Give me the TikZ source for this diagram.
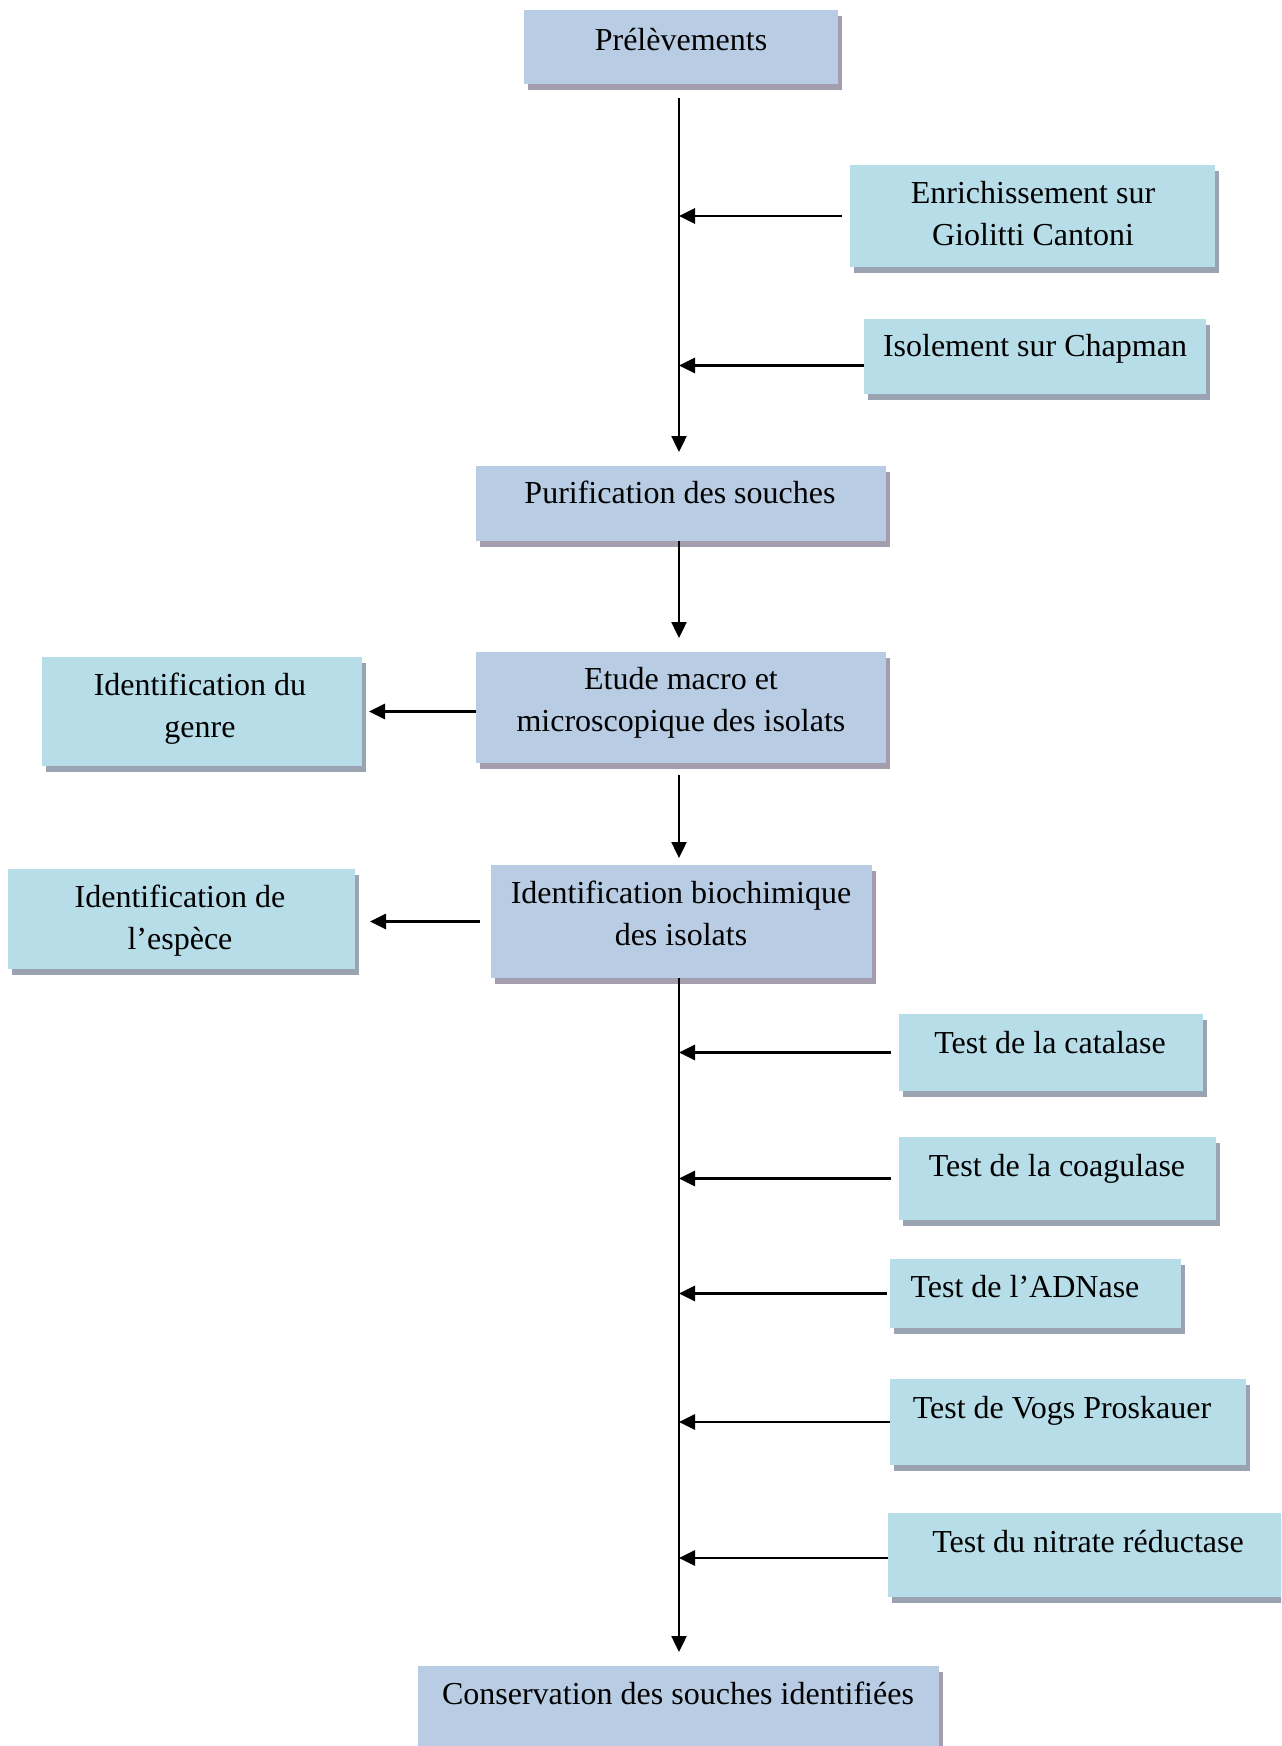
\documentclass[tikz,border=0pt]{standalone}
\usepackage{fontspec}
\setmainfont{Liberation Serif}
\usetikzlibrary{arrows.meta,shadows,fit}
\definecolor{stepfill}{HTML}{B8CCE4}
\definecolor{sidefill}{HTML}{B7DDE8}
\definecolor{stepshade}{HTML}{A39DAD}
\definecolor{sideshade}{HTML}{9AA3B2}
% struts: first line gets a fixed height, last line a fixed depth,
% so a node's centre lies midway between its first and last baselines
\newcommand\topstrut{\rule{0pt}{14pt}}
\newcommand\botstrut{\rule[-14pt]{0pt}{14pt}}
\begin{document}
\begin{tikzpicture}[x=0.5pt,y=-0.5pt,
  box/.style={rectangle, inner sep=0pt, outer sep=0pt},
  mainbox/.style={box, fill=stepfill,
    general shadow={fill=stepshade, shadow xshift=2pt, shadow yshift=-3pt}},
  sidebox/.style={box, fill=sidefill,
    general shadow={fill=sideshade, shadow xshift=2pt, shadow yshift=-3pt}},
  txt/.style={font=\fontsize{16}{21}\selectfont, align=center, inner sep=0pt, text=black},
  link/.style={line width=1.2pt, -{Triangle[length=8pt,width=7.5pt]}},
  sidelink/.style={link, line width=1.4pt}
]
\useasboundingbox (0,0) rectangle (1281,1746);
\clip (0,0) rectangle (1281,1746);

% x position of the main vertical flow line
\coordinate (sp) at (679,0);

% main steps
\node[mainbox, fit={(524,10) (838,84)}] (pre) {};
\node[txt] (pre-t) at (681,50) {\topstrut Prélèvements\botstrut};

\node[mainbox, fit={(476,466) (886,541)}] (pur) {};
\node[txt] (pur-t) at (680,503) {\topstrut Purification des souches\botstrut};

\node[mainbox, fit={(476,652) (886,763)}] (etu) {};
\node[txt] (etu-t) at (681,710) {\topstrut Etude macro et\\microscopique des isolats\botstrut};

\node[mainbox, fit={(491,865) (872,978)}] (bio) {};
\node[txt] (bio-t) at (681,924) {\topstrut Identification biochimique\\des isolats\botstrut};

\node[mainbox, fit={(418,1666) (939,1770)}] (con) {};
\node[txt] (con-t) at (678,1704) {\topstrut Conservation des souches identifiées\botstrut};

% side steps
\node[sidebox, fit={(850,165) (1215,267)}] (enr) {};
\node[txt] (enr-t) at (1033,224) {\topstrut Enrichissement sur\\Giolitti Cantoni\botstrut};

\node[sidebox, fit={(864,319) (1206,394)}] (iso) {};
\node[txt] (iso-t) at (1035,356) {\topstrut Isolement sur Chapman\botstrut};

\node[sidebox, fit={(42,657) (362,766)}] (gen) {};
\node[txt] (gen-t) at (200,716) {\topstrut Identification du\\genre\botstrut};

\node[sidebox, fit={(8,869) (355,969)}] (esp) {};
\node[txt] (esp-t) at (180,928) {\topstrut Identification de\\l’espèce\botstrut};

% biochemical tests
\node[sidebox, fit={(899,1014) (1203,1091)}] (cat) {};
\node[txt] (cat-t) at (1050,1053) {\topstrut Test de la catalase\botstrut};

\node[sidebox, fit={(899,1137) (1216,1220)}] (coa) {};
\node[txt] (coa-t) at (1057,1176) {\topstrut Test de la coagulase\botstrut};

\node[sidebox, fit={(890,1259) (1181,1328)}] (adn) {};
\node[txt] (adn-t) at (1025,1297) {\topstrut Test de l’ADNase\botstrut};

\node[sidebox, fit={(890,1379) (1246,1465)}] (vog) {};
\node[txt] (vog-t) at (1062,1418) {\topstrut Test de Vogs Proskauer\botstrut};

\node[sidebox, fit={(888,1513) (1290,1597)}] (nit) {};
\node[txt] (nit-t) at (1088,1552) {\topstrut Test du nitrate réductase\botstrut};

% vertical flow
\draw[link] ([yshift=-7pt]pre.south -| sp) -- ([yshift=7pt]pur.north -| sp);
\draw[link] (pur.south -| sp) -- ([yshift=7pt]etu.north -| sp);
\draw[link] ([yshift=-6pt]etu.south -| sp) -- ([yshift=3.5pt]bio.north -| sp);
\draw[link] (bio.south -| sp) -- ([yshift=7pt]con.north -| sp);

% inputs joining the flow line
\draw[sidelink] ([xshift=-4pt]enr.west) -- (enr.west -| sp);
\draw[sidelink] ([yshift=-4.5pt]iso.west) -- ([yshift=-4.5pt]iso.west -| sp);
\draw[sidelink] ([xshift=-4pt]cat.west) -- (cat.west -| sp);
\draw[sidelink] ([xshift=-4pt]coa.west) -- (coa.west -| sp);
\draw[sidelink] ([xshift=-1.5pt]adn.west) -- (adn.west -| sp);
\draw[sidelink] (vog.west) -- (vog.west -| sp);
\draw[sidelink] ([yshift=-1.5pt]nit.west) -- ([yshift=-1.5pt]nit.west -| sp);

% outputs to the left
\draw[sidelink] (etu.west |- gen.east) -- ([xshift=3.5pt]gen.east);
\draw[sidelink] ([xshift=-5.5pt]bio.west) -- ([xshift=7.5pt]bio.west -| esp.east);
\end{tikzpicture}
\end{document}
